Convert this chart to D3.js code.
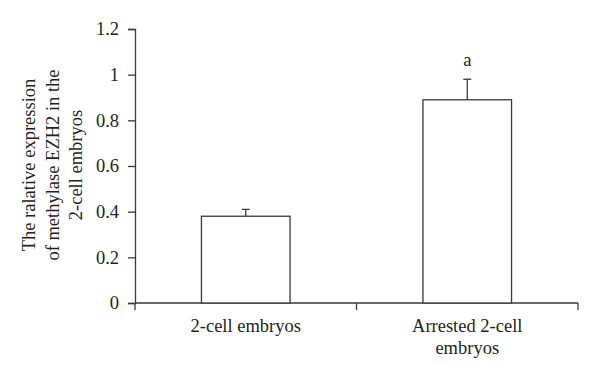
<!DOCTYPE html>
<html>
<head>
<meta charset="utf-8">
<script src="https://cdn.jsdelivr.net/npm/d3@7"></script>
<style>
  body { margin: 0; background: #fff; }
  text { font-family: "Liberation Serif", "DejaVu Serif", serif; fill: #231f20; }
</style>
</head>
<body>
<svg id="chart" width="600" height="380"></svg>
<script>
// data
const categories = ["2-cell embryos", "Arrested 2-cell embryos"];
const values = [0.38, 0.89];
const errors = [0.03, 0.09];
const marks = ["", "a"];
const yTicks = [0, 0.2, 0.4, 0.6, 0.8, 1, 1.2];
const yTitle = ["The ralative expression", "of methylase EZH2 in the", "2-cell embryos"];

const svg = d3.select("#chart");
const margin = { left: 135, right: 22, top: 29, bottom: 77 };
const width = 600 - margin.left - margin.right;
const height = 380 - margin.top - margin.bottom;
const lineColor = "#3a3a3a";
const fontSize = 18.5;

const g = svg.append("g").attr("transform", `translate(${margin.left},${margin.top})`);

const x = d3.scaleBand().domain(categories).range([0, width]).paddingInner(0.6).paddingOuter(0.3);
const y = d3.scaleLinear().domain([0, 1.2]).range([height, 0]);

// y axis
const yAxis = g.append("g")
    .call(d3.axisLeft(y).tickValues(yTicks).tickSize(7).tickPadding(9)
        .tickFormat(d => d === 0 || d === 1 ? d3.format("d")(d) : d3.format(".1f")(d)));
yAxis.select(".domain").attr("stroke", lineColor).attr("stroke-width", 1.3);
yAxis.selectAll(".tick line").attr("stroke", lineColor).attr("stroke-width", 1.3);
yAxis.selectAll("text").attr("font-size", fontSize).attr("fill", "#231f20")
    .attr("font-family", "Liberation Serif, serif");

// x axis: ticks at category boundaries
const xBounds = [0, width / 2, width];
g.append("line")
    .attr("x1", 0).attr("x2", width)
    .attr("y1", height).attr("y2", height)
    .attr("stroke", lineColor).attr("stroke-width", 1.3);
g.selectAll(".xtick").data(xBounds).join("line")
    .attr("class", "xtick")
    .attr("x1", d => d).attr("x2", d => d)
    .attr("y1", height).attr("y2", height + 7)
    .attr("stroke", lineColor).attr("stroke-width", 1.3);

// x labels, wrapped like the original
const xLabelLines = [["2-cell embryos"], ["Arrested 2-cell", "embryos"]];
categories.forEach((c, i) => {
    const t = g.append("text")
        .attr("x", x(c) + x.bandwidth() / 2)
        .attr("y", height + 29)
        .attr("text-anchor", "middle")
        .attr("font-size", fontSize);
    xLabelLines[i].forEach((line, j) => {
        t.append("tspan").attr("x", x(c) + x.bandwidth() / 2).attr("dy", j === 0 ? 0 : 21.5).text(line);
    });
});

// bars
g.selectAll(".bar").data(categories).join("rect")
    .attr("class", "bar")
    .attr("x", d => x(d))
    .attr("y", (d, i) => y(values[i]))
    .attr("width", x.bandwidth())
    .attr("height", (d, i) => height - y(values[i]))
    .attr("fill", "#fff")
    .attr("stroke", lineColor)
    .attr("stroke-width", 1.3);

// error bars (upper only)
categories.forEach((c, i) => {
    const cx = x(c) + x.bandwidth() / 2;
    g.append("line")
        .attr("x1", cx).attr("x2", cx)
        .attr("y1", y(values[i])).attr("y2", y(values[i] + errors[i]))
        .attr("stroke", lineColor).attr("stroke-width", 1.3);
    g.append("line")
        .attr("x1", cx - 4).attr("x2", cx + 4)
        .attr("y1", y(values[i] + errors[i])).attr("y2", y(values[i] + errors[i]))
        .attr("stroke", lineColor).attr("stroke-width", 1.3);
    if (marks[i]) {
        g.append("text")
            .attr("x", cx)
            .attr("y", y(values[i] + errors[i]) - 13)
            .attr("text-anchor", "middle")
            .attr("font-size", fontSize)
            .text(marks[i]);
    }
});

// y title
const yt = svg.append("text")
    .attr("transform", "translate(30,165) rotate(-90)")
    .attr("text-anchor", "middle")
    .attr("font-size", fontSize);
yTitle.forEach((line, j) => {
    yt.append("tspan").attr("x", 0).attr("dy", j === 0 ? 5 : 23.5).text(line);
});
</script>
</body>
</html>
